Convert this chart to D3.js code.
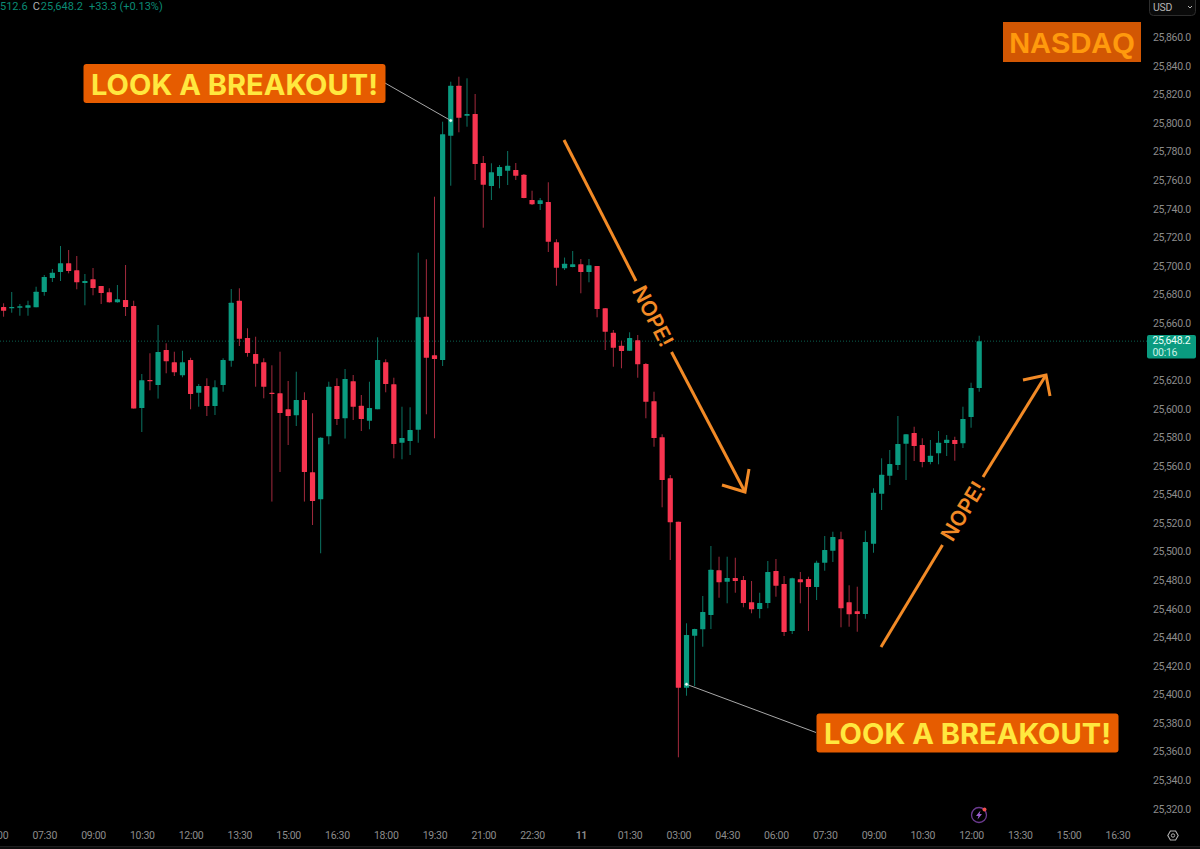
<!DOCTYPE html>
<html>
<head>
<meta charset="utf-8">
<title>NASDAQ 15 minute candles</title>
<script src="https://cdn.jsdelivr.net/npm/d3@7/dist/d3.min.js"></script>
<style>
  html, body { margin: 0; padding: 0; background: #000; overflow: hidden; }
  svg { display: block; font-family: Inter, "Noto Sans", sans-serif; }
  .axis path, .axis line { display: none; }
  .axis text { fill: #8c8c8c; font-size: 10.5px; letter-spacing: -0.3px; font-family: Roboto, "Noto Sans", sans-serif; }
  .small { font-family: Roboto, "Noto Sans", sans-serif; font-size: 10.5px; letter-spacing: -0.3px; }
</style>
</head>
<body>
<svg id="chart" width="1200" height="849"></svg>
<script>
// 15 minute bars, oldest first
const opens = [
25672.1,25671.2,25671.6,25671.6,25671.9,25682.6,25692.4,25696.6,25702.7,25697.8,25688.9,25691.5,25686.8,25682.4,25675.4,25677,
25672.8,25601.4,25621,25617.5,25642,25633.4,25624.3,25635,25612.1,25616.8,25602.8,25617.5,25634.5,25676.5,25650.4,25639.2,
25633.4,25612.1,25611.7,25600.5,25596.3,25607,25556.4,25537.5,25581.6,25616.8,25594.2,25620.1,25603,25592.5,25600.5,25633.4,
25618,25577.1,25578.3,25586.2,25665.3,25638.3,25635,25792,25827,25806,25807.2,25772.9,25756.8,25763.8,25767.5,25768,
25764.7,25747,25744.2,25745.6,25717.4,25699.2,25700.1,25702,25696.6,25700.8,25671.2,25654.1,25645,25641.5,25648.8,25632.2,
25606.1,25580.9,25552.2,25521.8,25405.6,25442,25446.5,25456.5,25487.8,25479.8,25482.4,25481,25465.4,25460.7,25464.9,25487.3,
25478.2,25445.3,25481.5,25481.7,25476.1,25493.1,25501.5,25509.5,25465.4,25459.1,25457.2,25506.4,25541.4,25554,25561.5,25576.4,
25583.9,25575.5,25563.6,25569.7,25576.9,25579,25576.7,25595.1,25615.4
];
const highs = [
25674.7,25682.6,25674.2,25676.5,25686.3,25694.5,25698.7,25714.8,25712,25707.8,25695.2,25699.4,25686.8,25685.2,25687.5,25701.5,
25676.5,25625.2,25639.7,25659.5,25646.7,25640.8,25641.5,25636.6,25618.2,25622.2,25620.8,25636.2,25684.7,25685.2,25657.2,25651.3,
25636.2,25631.3,25640.8,25620.3,25626.8,25612.4,25597.7,25580.9,25619.8,25622.2,25628.7,25624.5,25610.5,25619.8,25650.9,25635.5,
25622.6,25602.3,25601.9,25710.1,25705.5,25749.3,25801.8,25829.8,25833.3,25832.2,25821.2,25777.8,25772.7,25771.5,25781.3,25772.9,
25765.2,25753.5,25748.4,25759.4,25719.5,25706.7,25711.3,25705.7,25705.7,25700.8,25671.2,25656,25648.5,25654.4,25652.5,25632.9,
25612.8,25583,25554.5,25521.8,25450.7,25446.9,25469.8,25504.8,25497.3,25497.3,25496.6,25483.8,25480.3,25472.1,25494.3,25495.7,
25483.8,25482.6,25486.6,25483.3,25494.5,25511.8,25514.8,25514.8,25477.3,25476.3,25515.5,25545.2,25566.2,25572,25595.8,25583,
25588.3,25580.2,25579,25585.3,25582.5,25581.3,25602.3,25619.1,25652
];
const lows = [
25665.3,25668.1,25666,25666,25671.9,25680,25689.6,25690.3,25695.7,25684.5,25673.3,25680.3,25674.2,25675.1,25675.1,25665.8,
25601,25584.6,25613.8,25608,25625.7,25623.8,25622.9,25600.5,25602.3,25595.8,25596.5,25612.8,25630.3,25644.8,25637.3,25616.3,
25608.2,25535.9,25556.6,25575.5,25588.8,25535.9,25519.5,25499.7,25576,25589.5,25580,25593,25585.3,25586.5,25600.5,25612.4,
25566.2,25565.5,25568.5,25577.1,25597,25580.2,25630.8,25757,25794.4,25798.3,25761,25727.6,25747,25755.2,25757.5,25761,
25748.2,25743.5,25740,25710.6,25687,25698,25699.9,25681.7,25689.4,25664.9,25642,25630.3,25629.2,25641.3,25622.6,25594.2,
25574.3,25531.9,25495,25356.9,25400,25406.8,25434.3,25446.7,25468.6,25464.7,25472.1,25461.9,25457.7,25454.2,25461.2,25469.3,
25441.8,25443.2,25464.7,25445.3,25467,25487.5,25493.6,25447.9,25448.3,25444.8,25453.9,25500.1,25530,25547.5,25558,25551,
25564.3,25559.9,25562,25562,25567.8,25564.5,25573.4,25587.6,25612.8
];
const closes = [
25669.5,25672.1,25672.6,25673.3,25682.8,25693.1,25696.1,25702.7,25697.3,25689.4,25690.3,25685.4,25681.9,25675.4,25677.5,25672.1,
25601,25620.8,25620.1,25640.6,25634.1,25626.4,25633.4,25611.2,25616.8,25602.8,25615.9,25635,25675.1,25649.9,25639.9,25632.4,
25616.3,25611.4,25597.9,25595.8,25607,25556.6,25536.3,25580.6,25616.3,25593.7,25621.7,25602.3,25593.7,25601.4,25635,25618.2,
25576.2,25580.4,25586,25664.9,25636.6,25635.7,25793,25827,25804.6,25807.2,25772.2,25757.7,25766.4,25770.1,25771,25764,
25748.4,25744,25746.8,25717.8,25699.6,25702.4,25702,25696.6,25701.3,25670.7,25654.8,25643.6,25641.3,25650.4,25632,25605.8,
25580.4,25551,25521.4,25405.6,25442.5,25446.7,25458.6,25488.2,25479.4,25482.4,25480.3,25464.9,25460.5,25464.9,25486.6,25477,
25444.6,25482.2,25479.4,25476.1,25493.1,25502,25511.1,25461.2,25457,25457.2,25507.6,25542.1,25554.7,25562.2,25576.2,25583,
25574.8,25563.6,25568,25577.1,25579.2,25576.2,25593.7,25615.4,25648.2
];

const priceTicks = [25860,25840,25820,25800,25780,25760,25740,25720,25700,25680,25660,25620,25600,25580,
  25560,25540,25520,25500,25480,25460,25440,25420,25400,25380,25360,25340,25320];
const timeLabels = ["06:00","07:30","09:00","10:30","12:00","13:30","15:00","16:30","18:00","19:30","21:00","22:30",
  "11","01:30","03:00","04:30","06:00","07:30","09:00","10:30","12:00","13:30","15:00","16:30"];
const barsPerLabel = 6;
const lastPrice = 25648.2;
const countdown = "00:16";

const UP = "#0a9b80", DOWN = "#f7344f", UP_WICK = "#0b7463", DOWN_WICK = "#a32a3d";
const ORANGE = "#f28a26", TAG = "#e65c00", TAG_TEXT = "#ffe83f";

const svg = d3.select("#chart");
const bars = d3.range(opens.length);

const x = d3.scaleLinear().domain([0, 120]).range([3.6, 979.2]);
const y = d3.scaleLinear().domain([25887, 25317]).range([0, 814.3]);

svg.append("rect").attr("width", 1200).attr("height", 849).attr("fill", "#000");

// dotted level of the last traded price
svg.append("line")
  .attr("x1", 0).attr("x2", 1147).attr("y1", y(lastPrice)).attr("y2", y(lastPrice))
  .attr("stroke", "#0a5f50").attr("stroke-width", 1).attr("stroke-dasharray", "1 2");

// candles
const candle = svg.append("g").selectAll("g").data(bars).join("g");
candle.append("line")
  .attr("x1", i => x(i)).attr("x2", i => x(i))
  .attr("y1", i => y(highs[i])).attr("y2", i => y(lows[i]))
  .attr("stroke", i => closes[i] >= opens[i] ? UP_WICK : DOWN_WICK)
  .attr("stroke-width", 1);
candle.append("rect")
  .attr("x", i => x(i) - 2.6).attr("width", 5.2)
  .attr("y", i => y(Math.max(opens[i], closes[i])))
  .attr("height", i => Math.max(1.2, Math.abs(y(opens[i]) - y(closes[i]))))
  .attr("rx", 0.5)
  .attr("fill", i => closes[i] >= opens[i] ? UP : DOWN);

// axes
svg.append("g").attr("class", "axis")
  .attr("transform", "translate(1148,-1.3)")
  .call(d3.axisRight(y).tickValues(priceTicks).tickSize(0).tickPadding(5).tickFormat(d3.format(",.1f")));

const timeAxis = svg.append("g").attr("class", "axis")
  .attr("transform", "translate(0,827.5)")
  .call(d3.axisBottom(x)
    .tickValues(timeLabels.map((_, n) => n * barsPerLabel - 1))
    .tickSize(0).tickPadding(4)
    .tickFormat((_, n) => timeLabels[n]));
timeAxis.selectAll("text").filter((_, n) => timeLabels[n] === "11")
  .attr("fill", "#c4c4c4").attr("font-weight", 600);

svg.append("line").attr("x1", 0).attr("x2", 1200).attr("y1", 846.5).attr("y2", 846.5).attr("stroke", "#1e1e1e");
svg.append("rect").attr("y", 847).attr("width", 1200).attr("height", 2).attr("fill", "#0d0d0d");

// last price tag
svg.append("rect").attr("x", 1147).attr("y", 335).attr("width", 49).attr("height", 23.5).attr("rx", 2).attr("fill", UP);
svg.append("text").attr("class", "small").attr("x", 1152.5).attr("y", 344.3).attr("fill", "#eafff9").text(d3.format(",.1f")(lastPrice));
svg.append("text").attr("class", "small").attr("x", 1152.5).attr("y", 355.6).attr("fill", "#c9f0e6").text(countdown);

// currency button
svg.append("rect").attr("x", 1149.5).attr("y", -6).attr("width", 46).attr("height", 21.5).attr("rx", 4)
  .attr("fill", "#0a0a0a").attr("stroke", "#2d2d2d");
svg.append("text").attr("class", "small").attr("x", 1153).attr("y", 11).attr("fill", "#b5b5b5").text("USD");
svg.append("path").attr("d", "M1188 6l2 2l2-2").attr("fill", "none").attr("stroke", "#b5b5b5");

// quote line, cut off by the left edge
const quote = svg.append("text").attr("x", 0).attr("y", 10).attr("font-family", "Roboto, sans-serif")
  .attr("font-size", 11).attr("fill", "#0b8a74");
quote.append("tspan").text("512.6");
quote.append("tspan").attr("dx", 5).attr("fill", "#b0b0b0").text("C");
quote.append("tspan").attr("dx", 1).text("25,648.2");
quote.append("tspan").attr("dx", 6).text("+33.3 (+0.13%)");

// index badge
svg.append("rect").attr("x", 1003).attr("y", 22).attr("width", 138).attr("height", 40).attr("fill", "#d25703");
svg.append("text").attr("x", 1072).attr("y", 53).attr("text-anchor", "middle")
  .attr("font-family", "Liberation Sans, Arial, sans-serif").attr("font-weight", 700).attr("font-size", 29)
  .attr("fill", "#ff9a0d").text("NASDAQ");

// callouts pointing at a bar
function callout(bar, price, box, attachX, attachY) {
  svg.append("line")
    .attr("x1", x(bar)).attr("y1", y(price)).attr("x2", attachX).attr("y2", attachY)
    .attr("stroke", "#a8a8a8").attr("stroke-width", 1);
  svg.append("circle").attr("cx", x(bar)).attr("cy", y(price)).attr("r", 1.8)
    .attr("fill", "#e8fff9").attr("stroke", "#0a9b80").attr("stroke-width", 0.6);
  svg.append("rect").attr("x", box[0]).attr("y", box[1]).attr("width", box[2]).attr("height", box[3])
    .attr("rx", 3).attr("fill", TAG);
  svg.append("text").attr("x", box[0] + box[2] / 2).attr("y", box[1] + 30.5).attr("text-anchor", "middle")
    .attr("font-size", 28.5).attr("font-weight", 700).attr("fill", TAG_TEXT)
    .attr("textLength", box[2] - 15).attr("lengthAdjust", "spacingAndGlyphs")
    .text("LOOK A BREAKOUT!");
}
callout(55, 25802.6, [83.5, 64, 302, 39], 385, 83);
callout(84, 25408, [816.5, 713.5, 302, 39], 816, 732.5);

// hand drawn arrows, broken around their captions
function arrow(segments, head, label, cx, cy, angle) {
  const g = svg.append("g").attr("fill", "none").attr("stroke", ORANGE)
    .attr("stroke-width", 3).attr("stroke-linecap", "butt").attr("stroke-linejoin", "miter");
  segments.forEach(s => g.append("line").attr("x1", s[0]).attr("y1", s[1]).attr("x2", s[2]).attr("y2", s[3]));
  g.append("polyline").attr("points", head.join(" "));
  svg.append("text").attr("transform", `translate(${cx},${cy}) rotate(${angle})`)
    .attr("text-anchor", "middle").attr("dy", "0.36em")
    .attr("font-size", 21).attr("font-weight", 600).attr("fill", ORANGE).text(label);
}
arrow([[564, 140, 636, 281], [671.5, 352, 745, 492]],
  [[722, 485], [745, 492], [749, 469]], "NOPE!", 653, 316, 62.8);
arrow([[881, 647, 942.5, 545], [983, 477, 1046, 375]],
  [[1023, 380], [1046, 375], [1050, 396]], "NOPE!", 963, 511, -58.8);

// notifications badge
const bolt = svg.append("g").attr("transform", "translate(979,815)");
bolt.append("circle").attr("r", 7.5).attr("fill", "none").attr("stroke", "#6b3a8f").attr("stroke-width", 1.3);
bolt.append("path").attr("d", "M1.5,-4.5L-3,1H-0.5L-1.5,4.5L3,-1H0.5Z").attr("fill", "#9c5fd0");
bolt.append("circle").attr("cx", 5.5).attr("cy", -5.5).attr("r", 2).attr("fill", "#f0504f");

// settings cog
const cog = svg.append("g").attr("transform", "translate(1173,835.5)").attr("fill", "none").attr("stroke", "#b0b0b0");
cog.append("path").attr("d", "M-5.2,0L-2.6,-4.5H2.6L5.2,0L2.6,4.5H-2.6Z").attr("stroke-width", 1.1);
cog.append("circle").attr("r", 1.7).attr("stroke-width", 1);
</script>
</body>
</html>
